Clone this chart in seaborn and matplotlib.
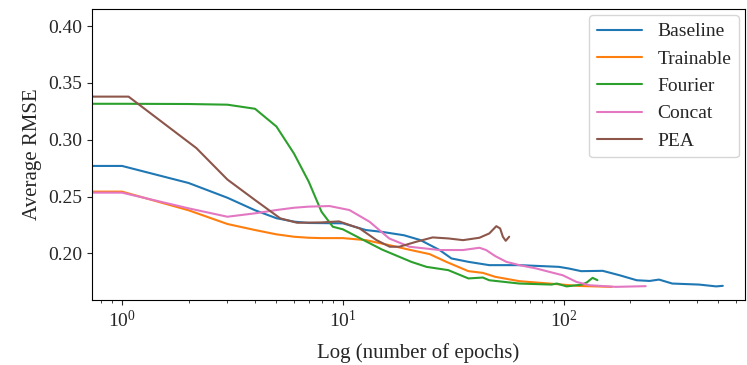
import numpy as np
import pandas as pd
import matplotlib
matplotlib.use("Agg")
import matplotlib.pyplot as plt
import seaborn as sns

# values (epochs on a log axis, average RMSE)
baseline_ep = [0.6, 1, 2, 3, 4, 5, 6, 7, 8, 10, 12.7, 15, 18.9, 22.4, 27.4, 31, 37, 46, 63,
               95, 105, 120, 150, 179, 214, 245, 270, 310, 410, 490, 525]
baseline_rmse = [0.277, 0.277, 0.262, 0.249, 0.238, 0.231, 0.228, 0.2268, 0.2267, 0.2265, 0.2206,
                 0.219, 0.216, 0.2118, 0.203, 0.1956, 0.1926, 0.1897, 0.1897, 0.1882, 0.1868,
                 0.1844, 0.1847, 0.1808, 0.1764, 0.1758, 0.1770, 0.1735, 0.1726, 0.1710, 0.1715]

trainable_ep = [0.6, 1, 2, 3, 4, 5, 6, 7, 8, 10, 12.7, 16.2, 20.4, 24.7, 29.4, 37, 43, 49,
                63, 86, 117, 165]
trainable_rmse = [0.2544, 0.2544, 0.238, 0.2259, 0.2206, 0.2168, 0.2147, 0.2138, 0.2135, 0.2135,
                  0.2117, 0.2073, 0.2029, 0.1994, 0.1926, 0.1844, 0.1829, 0.1794, 0.1756,
                  0.1735, 0.1714, 0.1706]

fourier_ep = [0.6, 1, 2, 3, 4, 5, 6, 7, 8, 9, 10, 12, 15, 20.4, 23.9, 30, 37, 43, 46, 63, 88,
              93, 103, 121, 127, 135, 142]
fourier_rmse = [0.3317, 0.3317, 0.3315, 0.3309, 0.3273, 0.3117, 0.288, 0.2632, 0.2367, 0.2235,
                0.2212, 0.2132, 0.2035, 0.1926, 0.1882, 0.1853, 0.178, 0.1788, 0.1764, 0.1735,
                0.1726, 0.1735, 0.171, 0.1726, 0.1744, 0.1785, 0.1765]

concat_ep = [0.6, 1, 2, 3, 4, 5, 6, 7, 8.7, 10.7, 13.2, 16.2, 20, 27.4, 35, 41.5, 44.5, 49,
             55, 63, 75, 86, 99, 114, 131, 172, 235]
concat_rmse = [0.2535, 0.2535, 0.2397, 0.2323, 0.2353, 0.2382, 0.2402, 0.2412, 0.2417, 0.2382,
               0.2279, 0.2132, 0.2059, 0.203, 0.203, 0.205, 0.203, 0.1976, 0.1926, 0.1897,
               0.1868, 0.1838, 0.1808, 0.175, 0.172, 0.1706, 0.1712]

pea_ep = [0.6, 1.07, 2.17, 3, 4, 5.2, 6.2, 8, 9.6, 11.9, 14.2, 16.3, 18, 21.5, 25.5, 30, 35,
          41.5, 46, 49.5, 51.5, 53, 54.6, 56.6]
pea_rmse = [0.338, 0.338, 0.2927, 0.265, 0.247, 0.2309, 0.227, 0.2273, 0.2282, 0.222, 0.2117,
            0.2059, 0.2059, 0.2103, 0.2141, 0.2132, 0.2117, 0.2138, 0.2176, 0.224, 0.222,
            0.2147, 0.2111, 0.2147]

series = {
    "Baseline": (baseline_ep, baseline_rmse),
    "Trainable": (trainable_ep, trainable_rmse),
    "Fourier": (fourier_ep, fourier_rmse),
    "Concat": (concat_ep, concat_rmse),
    "PEA": (pea_ep, pea_rmse),
}
df = pd.concat(
    [pd.DataFrame({"epoch": ep, "rmse": r, "model": name}) for name, (ep, r) in series.items()],
    ignore_index=True,
)

sns.set_style("ticks")
plt.rcParams["font.family"] = ["Liberation Serif", "DejaVu Serif"]
plt.rcParams["mathtext.fontset"] = "stix"
plt.rcParams["xtick.direction"] = "out"
plt.rcParams["ytick.direction"] = "out"

fig = plt.figure(figsize=(7.47, 3.65), dpi=100)
ax = fig.add_axes([0.123, 0.178, 0.874, 0.797])

palette = ["#1f77b4", "#ff7f0e", "#2ca02c", "#e377c2", "#8c564b"]
sns.lineplot(data=df, x="epoch", y="rmse", hue="model", palette=palette,
             estimator=None, sort=False, linewidth=1.5, ax=ax)

ax.set_xscale("log")
ax.set_xlim(0.73, 660)
ax.set_ylim(0.159, 0.415)
ax.set_yticks([0.20, 0.25, 0.30, 0.35, 0.40])
ax.tick_params(axis="both", labelsize=14)
ax.set_xlabel("Log (number of epochs)", fontsize=15, labelpad=9)
ax.set_ylabel("Average RMSE", fontsize=15, labelpad=4)
for s in ax.spines.values():
    s.set_visible(True)
    s.set_color("black")

handles, labels = ax.get_legend_handles_labels()
ax.legend(handles, labels, loc="upper right", fontsize=14, frameon=True,
          framealpha=0.8, edgecolor="#cccccc", handlelength=2.3, labelspacing=0.5,
          borderaxespad=0.3)

plt.savefig("out.png", dpi=100, facecolor="white")
